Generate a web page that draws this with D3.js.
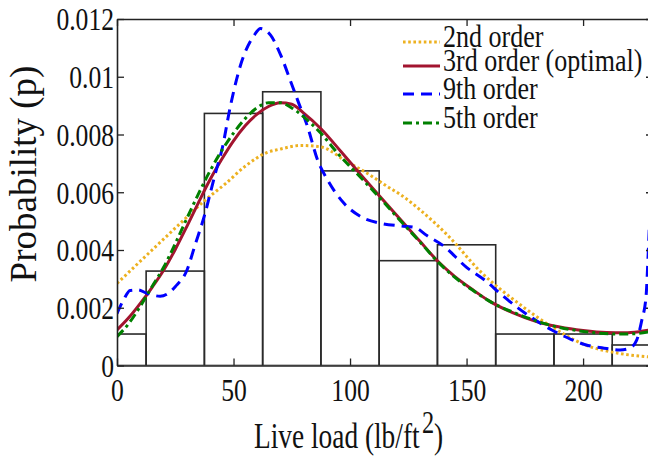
<!DOCTYPE html>
<html><head><meta charset="utf-8">
<script src="https://cdn.jsdelivr.net/npm/d3@7"></script>
<style>html,body{margin:0;padding:0;background:#fff;overflow:hidden}</style>
</head><body>
<svg id="c" width="648" height="456"></svg>
<script>
// ---------- data ----------
const xTicks = [0, 50, 100, 150, 200];
const yTicks = [0, 0.002, 0.004, 0.006, 0.008, 0.01, 0.012];
const yTickLabels = ["0", "0.002", "0.004", "0.006", "0.008", "0.01", "0.012"];

const binCenters = [0, 25, 50, 75, 100, 125, 150, 175, 200, 225];
const binWidth = 25;
const binValues = [0.00109, 0.00327, 0.00873, 0.00948, 0.00674, 0.00363, 0.00418, 0.00109, 0.00109, 0.00071];

const seriesNames = ["2nd order", "3rd order (optimal)", "9th order", "5th order"];

// curve values read in units of 1e-3
const order2X = [0, 13.5, 27.9, 37.9, 46.6, 55, 64.5, 70.3, 78.9, 87.5, 98.6, 107.3, 116.2, 122, 130.6, 142, 156, 172.3, 186.6, 201, 215.4, 228.3, 230];
const order2Y = [2.84, 3.88, 4.98, 5.73, 6.3, 6.9, 7.38, 7.5, 7.62, 7.57, 7.06, 6.66, 6.19, 5.9, 5.35, 4.5, 3.25, 2.15, 1.34, 0.71, 0.42, 0.30, 0.29];

const order3X = [0, 5, 10, 15, 20, 25, 30, 35, 40, 45, 50, 55, 60, 65, 70, 75, 80, 87.5, 96, 104.7, 113.4, 122, 130, 137.8, 145, 152.2, 160, 170, 180, 190, 200, 210, 218, 224, 230];
const order3Y = [1.23, 1.65, 2.15, 2.7, 3.3, 4.02, 4.82, 5.65, 6.45, 7.15, 7.78, 8.3, 8.7, 8.97, 9.1, 9.05, 8.75, 8.2, 7.42, 6.6, 5.8, 5.02, 4.3, 3.6, 3.08, 2.65, 2.22, 1.82, 1.52, 1.33, 1.21, 1.14, 1.13, 1.17, 1.25];

const order9X = [0, 3, 5.6, 9, 12.8, 18.5, 22, 25, 30, 33.6, 37.9, 40, 42.2, 45.1, 48.7, 53, 58.8, 61.6, 65.9, 70.3, 74.6, 77.5, 81.8, 86.1, 90.4, 97.5, 104.7, 113.4, 122, 127.7, 133, 140, 150, 157.9, 165, 172.3, 180, 186.6, 195, 201, 209, 215.9, 220, 223, 225.2, 227, 228, 229, 230];
const order9Y = [1.8, 2.3, 2.6, 2.62, 2.5, 2.4, 2.5, 2.73, 3.3, 4.2, 5.3, 5.96, 6.65, 7.5, 9.0, 10.4, 11.43, 11.67, 11.44, 10.74, 9.82, 9.19, 8.26, 7.11, 6.42, 5.61, 5.15, 4.92, 4.83, 4.78, 4.5, 4.15, 3.4, 2.95, 2.45, 1.98, 1.55, 1.23, 0.9, 0.72, 0.6, 0.54, 0.6, 0.88, 1.57, 2.38, 4.0, 6.0, 8.0];

const order5X = [0, 5, 10, 15, 20, 25, 30, 35, 40, 45, 50, 55, 60, 65, 70, 75, 80, 87.5, 95, 104.7, 113.4, 122, 130, 137.8, 145, 152.2, 160, 172.3, 186.6, 201, 215.4, 222, 230];
const order5Y = [1.0, 1.45, 2.05, 2.73, 3.4, 4.22, 5.1, 5.95, 6.75, 7.45, 8.05, 8.55, 8.92, 9.1, 9.1, 8.92, 8.62, 8.04, 7.32, 6.5, 5.75, 4.98, 4.28, 3.58, 3.05, 2.63, 2.22, 1.77, 1.38, 1.17, 1.09, 1.1, 1.19];

const yUnit = 0.001;

// ---------- layout ----------
const L = 117, T = 19, R = 653, B = 365.5;
const FONT = '"Liberation Serif", "Times New Roman", serif';
const SX = 0.8;

const x = d3.scaleLinear().domain([0, 230]).range([L, R]);
const y = d3.scaleLinear().domain([0, 0.012]).range([B, T]);

const svg = d3.select('#c');
svg.append('defs').append('clipPath').attr('id', 'plotclip')
  .append('rect').attr('x', L).attr('y', T).attr('width', R - L).attr('height', B - T);

const plot = svg.append('g').attr('clip-path', 'url(#plotclip)');

// histogram
plot.selectAll('rect.bar').data(binCenters).join('rect')
  .attr('class', 'bar')
  .attr('x', d => x(d - binWidth / 2))
  .attr('width', d => x(d + binWidth / 2) - x(d - binWidth / 2))
  .attr('y', (d, i) => y(binValues[i]))
  .attr('height', (d, i) => y(0) - y(binValues[i]))
  .attr('fill', 'none').attr('stroke', '#2a2a2a').attr('stroke-width', 1.6);

const styles = [
  { xs: order2X, ys: order2Y, color: '#EDB120', dash: '2.6,2.6', width: 3 },
  { xs: order3X, ys: order3Y, color: '#A2142F', dash: null, width: 3 },
  { xs: order9X, ys: order9Y, color: '#0000FF', dash: '11,7', width: 3 },
  { xs: order5X, ys: order5Y, color: '#008000', dash: '9,4,3,4', width: 3 }
];

const line = d3.line().x(d => x(d[0])).y(d => y(d[1] * yUnit)).curve(d3.curveMonotoneX);

styles.forEach(s => {
  const pts = s.xs.map((v, i) => [v, s.ys[i]]);
  plot.append('path').datum(pts)
    .attr('d', line)
    .attr('fill', 'none')
    .attr('stroke', s.color)
    .attr('stroke-width', s.width)
    .attr('stroke-dasharray', s.dash)
    .attr('stroke-linecap', 'butt');
});

// axes (box with inward ticks)
function styleAxis(g) {
  g.select('.domain').attr('stroke', '#222').attr('stroke-width', 1.6);
  g.selectAll('.tick line').attr('stroke', '#222').attr('stroke-width', 1.3);
}

const gB = svg.append('g').attr('transform', `translate(0,${B})`)
  .call(d3.axisBottom(x).tickValues(xTicks).tickSize(-7).tickSizeOuter(0).tickFormat(d3.format('d')));
styleAxis(gB);
gB.selectAll('.tick text')
  .attr('y', 36).attr('dy', 0)
  .attr('font-family', FONT).attr('font-size', 32).attr('fill', '#111')
  .attr('transform', `scale(${SX},1)`);

const gT = svg.append('g').attr('transform', `translate(0,${T})`)
  .call(d3.axisTop(x).tickValues(xTicks).tickSize(-7).tickSizeOuter(0).tickFormat(''));
styleAxis(gT);

const gL = svg.append('g').attr('transform', `translate(${L},0)`)
  .call(d3.axisLeft(y).tickValues(yTicks).tickSize(-7).tickSizeOuter(0)
    .tickFormat((d, i) => yTickLabels[i]));
styleAxis(gL);
gL.selectAll('.tick text')
  .attr('x', -3 / SX).attr('dy', '0.34em')
  .attr('font-family', FONT).attr('font-size', 32).attr('fill', '#111')
  .attr('transform', `scale(${SX},1)`);

const gR = svg.append('g').attr('transform', `translate(${R},0)`)
  .call(d3.axisRight(y).tickValues(yTicks).tickSize(-7).tickSizeOuter(0).tickFormat(''));
styleAxis(gR);

// axis titles
const xt = svg.append('text')
  .attr('transform', `translate(254,448) scale(0.76,1)`)
  .attr('font-family', FONT).attr('font-size', 36).attr('fill', '#111');
xt.append('tspan').text('Live load (lb/ft');
xt.append('tspan').attr('dx', 3).attr('dy', -15).attr('font-size', 32).text('2');
xt.append('tspan').attr('dy', 15).text(')');

svg.append('text')
  .attr('transform', 'translate(36,174) rotate(-90)')
  .attr('text-anchor', 'middle')
  .attr('font-family', FONT).attr('font-size', 37).attr('fill', '#111')
  .text('Probability (p)');

// legend
const legBase = [47, 71, 99, 128];
const lg = svg.append('g');
styles.forEach((s, i) => {
  const by = legBase[i];
  lg.append('line')
    .attr('x1', 403).attr('x2', 440).attr('y1', by - 5).attr('y2', by - 5)
    .attr('stroke', s.color).attr('stroke-width', s.width)
    .attr('stroke-dasharray', s.dash);
  lg.append('text')
    .attr('transform', `translate(443,${by}) scale(0.84,1)`)
    .attr('font-family', FONT).attr('font-size', 31).attr('fill', '#111')
    .text(seriesNames[i]);
});
</script>
</body></html>
